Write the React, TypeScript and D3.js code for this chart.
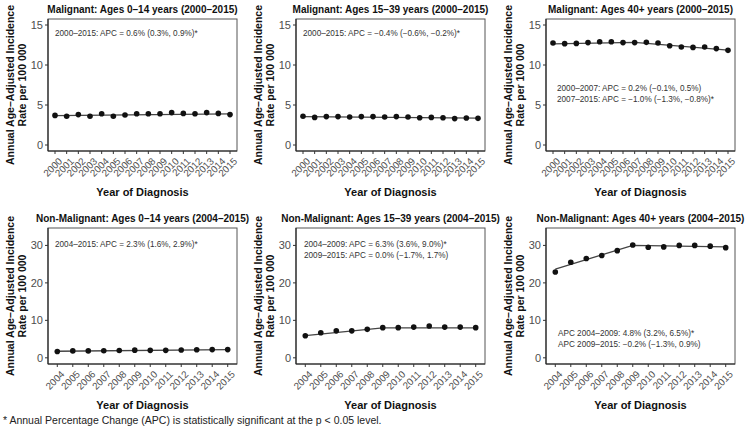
import React from "react";
import * as d3 from "d3";

// ---------- data ----------
const malYears = [2000, 2001, 2002, 2003, 2004, 2005, 2006, 2007, 2008, 2009, 2010, 2011, 2012, 2013, 2014, 2015];
const nmYears = [2004, 2005, 2006, 2007, 2008, 2009, 2010, 2011, 2012, 2013, 2014, 2015];

const mal0to14 = [3.7, 3.6, 3.8, 3.6, 3.9, 3.6, 3.75, 3.9, 3.9, 3.9, 4.05, 3.95, 3.9, 4.05, 3.95, 3.8];
const mal15to39 = [3.6, 3.45, 3.55, 3.55, 3.5, 3.55, 3.55, 3.5, 3.55, 3.5, 3.4, 3.45, 3.4, 3.3, 3.38, 3.33];
const mal40plus = [12.75, 12.67, 12.7, 12.8, 12.9, 12.9, 12.8, 12.8, 12.83, 12.75, 12.4, 12.25, 12.2, 12.25, 12.05, 11.83];
const nm0to14 = [1.7, 1.85, 1.85, 1.9, 1.95, 2.05, 2.0, 2.0, 2.1, 2.15, 2.2, 2.2];
const nm15to39 = [5.9, 6.7, 7.2, 7.2, 7.6, 8.05, 8.05, 8.2, 8.5, 8.2, 8.2, 8.05];
const nm40plus = [22.9, 25.5, 26.5, 27.3, 28.6, 30.1, 29.5, 29.6, 30.0, 30.0, 29.8, 29.4];

// joinpoint fitted segments (joinpoint years and fitted rates)
const fitMal0to14Years = [2000, 2015];
const fitMal0to14 = [3.66, 3.9];
const fitMal15to39Years = [2000, 2015];
const fitMal15to39 = [3.55, 3.35];
const fitMal40plusYears = [2000, 2007, 2015];
const fitMal40plus = [12.65, 12.83, 11.85];
const fitNm0to14Years = [2004, 2015];
const fitNm0to14 = [1.75, 2.2];
const fitNm15to39Years = [2004, 2009, 2015];
const fitNm15to39 = [5.9, 8.0, 8.0];
const fitNm40plusYears = [2004, 2009, 2015];
const fitNm40plus = [23.7, 30.0, 29.6];

const titles = [
  "Malignant: Ages 0\u201314 years (2000\u20132015)",
  "Malignant: Ages 15\u201339 years (2000\u20132015)",
  "Malignant: Ages 40+ years (2000\u20132015)",
  "Non-Malignant: Ages 0\u201314 years (2004\u20132015)",
  "Non-Malignant: Ages 15\u201339 years (2004\u20132015)",
  "Non-Malignant: Ages 40+ years (2004\u20132015)",
];

const notes0 = ["2000\u20132015: APC = 0.6% (0.3%, 0.9%)*"];
const notes1 = ["2000\u20132015: APC = \u22120.4% (\u22120.6%, \u22120.2%)*"];
const notes2 = ["2000\u20132007: APC = 0.2% (\u22120.1%, 0.5%)", "2007\u20132015: APC = \u22121.0% (\u22121.3%, \u22120.8%)*"];
const notes3 = ["2004\u20132015: APC = 2.3% (1.6%, 2.9%)*"];
const notes4 = ["2004\u20132009: APC = 6.3% (3.6%, 9.0%)*", "2009\u20132015: APC = 0.0% (\u22121.7%, 1.7%)"];
const notes5 = ["APC 2004\u20132009: 4.8% (3.2%, 6.5%)*", "APC 2009\u20132015: \u22120.2% (\u22121.3%, 0.9%)"];

const malTicks = [0, 5, 10, 15];
const nmTicks = [0, 10, 20, 30];
const malDomain = [0, 15];
const nmDomain = [0, 33];

const yLabel1 = "Annual Age\u2013Adjusted Incidence";
const yLabel2 = "Rate per 100 000";
const xLabel = "Year of Diagnosis";
const footnote = "* Annual Percentage Change (APC) is statistically significant at the p < 0.05 level.";

// ---------- layout ----------
const W = 752;
const H = 429;
const colLeft = [48, 296, 546];
const boxW = 189;
const rowTop = [19, 228];
const rowH = [132, 136];

const FONT = "Liberation Sans, Arial, Helvetica, sans-serif";

type PanelSpec = {
  years: number[];
  values: number[];
  fitYears: number[];
  fit: number[];
  title: string;
  notes: string[];
  ticks: number[];
  domain: number[];
  col: number;
  row: number;
  noteDx: number;
  noteDy: number;
  noteGap: number;
};

const panels: PanelSpec[] = [
  { years: malYears, values: mal0to14, fitYears: fitMal0to14Years, fit: fitMal0to14, title: titles[0], notes: notes0, ticks: malTicks, domain: malDomain, col: 0, row: 0, noteDx: 7, noteDy: 17, noteGap: 10.5 },
  { years: malYears, values: mal15to39, fitYears: fitMal15to39Years, fit: fitMal15to39, title: titles[1], notes: notes1, ticks: malTicks, domain: malDomain, col: 1, row: 0, noteDx: 7, noteDy: 17, noteGap: 10.5 },
  { years: malYears, values: mal40plus, fitYears: fitMal40plusYears, fit: fitMal40plus, title: titles[2], notes: notes2, ticks: malTicks, domain: malDomain, col: 2, row: 0, noteDx: 11, noteDy: 72, noteGap: 10.5 },
  { years: nmYears, values: nm0to14, fitYears: fitNm0to14Years, fit: fitNm0to14, title: titles[3], notes: notes3, ticks: nmTicks, domain: nmDomain, col: 0, row: 1, noteDx: 7, noteDy: 19, noteGap: 10.5 },
  { years: nmYears, values: nm15to39, fitYears: fitNm15to39Years, fit: fitNm15to39, title: titles[4], notes: notes4, ticks: nmTicks, domain: nmDomain, col: 1, row: 1, noteDx: 8, noteDy: 19, noteGap: 10.5 },
  { years: nmYears, values: nm40plus, fitYears: fitNm40plusYears, fit: fitNm40plus, title: titles[5], notes: notes5, ticks: nmTicks, domain: nmDomain, col: 2, row: 1, noteDx: 12, noteDy: 108, noteGap: 11 },
];

function Panel({ p }: { p: PanelSpec }) {
  const x0 = colLeft[p.col];
  const y0 = rowTop[p.row];
  const h = rowH[p.row];
  const ext = d3.extent(p.years) as [number, number];
  const x = d3.scaleLinear().domain([ext[0] - 0.6, ext[1] + 0.6]).range([x0, x0 + boxW]);
  const span = p.domain[1] - p.domain[0];
  const y = d3
    .scaleLinear()
    .domain([p.domain[0] - span * 0.05, p.domain[1] + span * 0.05])
    .range([y0 + h, y0]);
  const line = d3
    .line<number>()
    .x((_, i) => x(p.fitYears[i]))
    .y((d) => y(d));
  const cx = x0 + boxW / 2;
  const cy = y0 + h / 2;
  return (
    <g>
      <text x={cx} y={y0 - 6} textAnchor="middle" fontSize={10} fontWeight="bold" fill="#111">
        {p.title}
      </text>
      <rect x={x0} y={y0} width={boxW} height={h} fill="none" stroke="#555" strokeWidth={1} />
      <line x1={x0} x2={x0} y1={y0} y2={y0 + h} stroke="#222" strokeWidth={1.1} />
      <line x1={x0} x2={x0 + boxW} y1={y0 + h} y2={y0 + h} stroke="#222" strokeWidth={1.1} />
      {p.ticks.map((t) => (
        <g key={t}>
          <line x1={x0 - 3} x2={x0} y1={y(t)} y2={y(t)} stroke="#333" />
          <text x={x0 - 5} y={y(t)} dy="0.35em" textAnchor="end" fontSize={11} fill="#4d4d4d">
            {t}
          </text>
        </g>
      ))}
      {p.years.map((yr) => (
        <g key={yr}>
          <line x1={x(yr)} x2={x(yr)} y1={y0 + h} y2={y0 + h + 3} stroke="#333" />
          <text
            transform={`translate(${x(yr) + 3},${y0 + h + 6}) rotate(-45)`}
            textAnchor="end"
            dy="0.7em"
            fontSize={9.8}
            fill="#4d4d4d"
          >
            {yr}
          </text>
        </g>
      ))}
      <path d={line(p.fit) || ""} fill="none" stroke="#444" strokeWidth={1.3} />
      {p.values.map((v, i) => (
        <circle key={i} cx={x(p.years[i])} cy={y(v)} r={2.8} fill="#111" />
      ))}
      {p.notes.map((n, i) => (
        <text key={i} x={x0 + p.noteDx} y={y0 + p.noteDy + i * p.noteGap} fontSize={8.2} fill="#333">
          {n}
        </text>
      ))}
      <text x={cx} y={y0 + h + 45} textAnchor="middle" fontSize={11} fontWeight="bold" fill="#111">
        {xLabel}
      </text>
      <text transform={`translate(${x0 - 34},${cy}) rotate(-90)`} textAnchor="middle" fontSize={10.5} fontWeight="bold" fill="#111">
        {yLabel1}
      </text>
      <text transform={`translate(${x0 - 22},${cy}) rotate(-90)`} textAnchor="middle" fontSize={10.5} fontWeight="bold" fill="#111">
        {yLabel2}
      </text>
    </g>
  );
}

export default function App() {
  return (
    <svg
      width={W}
      height={H}
      viewBox={`0 0 ${W} ${H}`}
      style={{ position: "absolute", left: 0, top: 0, background: "#fff" }}
      fontFamily={FONT}
    >
      <rect width={W} height={H} fill="#fff" />
      {panels.map((p, i) => (
        <Panel key={i} p={p} />
      ))}
      <text x={3} y={424} fontSize={10.5} fill="#222">
        {footnote}
      </text>
    </svg>
  );
}
